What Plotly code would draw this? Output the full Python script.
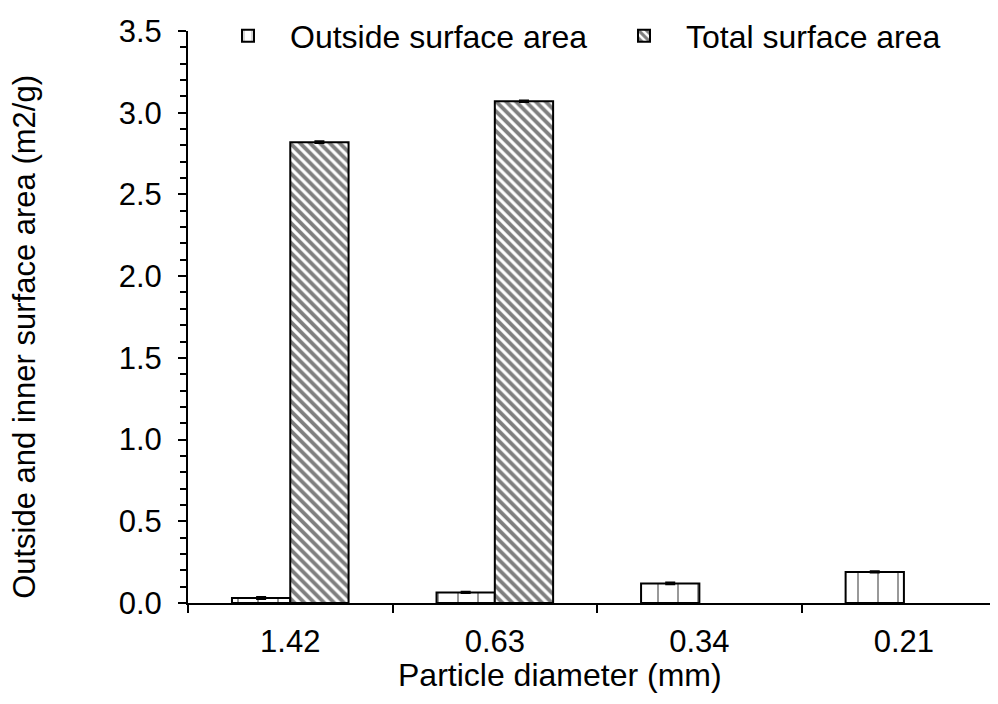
import plotly.graph_objects as go

categories = ["1.42", "0.63", "0.34", "0.21"]
outside_area = [0.03, 0.065, 0.12, 0.19]
outside_err = [0.006, 0.004, 0.006, 0.004]
total_area = [2.82, 3.07, None, None]
total_err = [0.006, 0.004, 0, 0]
y_ticks = [0.0, 0.5, 1.0, 1.5, 2.0, 2.5, 3.0, 3.5]
y_ticklabels = ["0.0", "0.5", "1.0", "1.5", "2.0", "2.5", "3.0", "3.5"]
x_title = "Particle diameter (mm)"
y_title = "Outside and inner surface area (m2/g)"

FONT = "Liberation Sans, Arial, sans-serif"
FS = 31
LFS = 32

# page body adds an 8px offset; the figure is sized and placed to compensate
OFF = 8
W, H = 998 - OFF, 704 - OFF
L, T = 188 - OFF, 27 - OFF
PW = W - L
PB = 603 - OFF
PH = PB - T


def px(x):
    return (x - OFF - L) / PW


def py(y):
    return (PB - (y - OFF)) / PH


fig = go.Figure()
fig.add_trace(go.Bar(
    x=categories, y=outside_area, name="Outside surface area", legend="legend",
    showlegend=True,
    marker=dict(color="white", line=dict(color="black", width=2),
                pattern=dict(shape="|", fgcolor="black", bgcolor="white",
                             size=20, solidity=0.08)),
    error_y=dict(type="data", array=outside_err, visible=True,
                 color="black", thickness=2, width=5),
))
fig.add_trace(go.Bar(
    x=categories, y=total_area, name="Total surface area", legend="legend2",
    showlegend=True,
    marker=dict(color="white", line=dict(color="black", width=2),
                pattern=dict(shape="\\", fgcolor="black", bgcolor="white",
                             size=7, solidity=0.55)),
    error_y=dict(type="data", array=total_err, visible=True,
                 color="black", thickness=2, width=5),
))

leg_common = dict(orientation="h", xanchor="left", yanchor="middle", y=py(32),
                  bgcolor="rgba(0,0,0,0)", font=dict(size=LFS), visible=True,
                  itemwidth=74)

fig.update_layout(
    width=W, height=H,
    margin=dict(l=L, r=0, t=T, b=H - PB),
    paper_bgcolor="white", plot_bgcolor="white",
    barmode="group", bargap=0.43, bargroupgap=0,
    showlegend=True,
    font=dict(family=FONT, size=FS, color="black"),
    legend=dict(x=px(206), **leg_common),
    legend2=dict(x=px(602), **leg_common),
    xaxis=dict(
        type="category", range=[-0.5, 3.46], automargin=False,
        showline=True, linecolor="black", linewidth=2,
        ticks="outside", ticklen=8, tickwidth=2, tickcolor="black",
        tickson="boundaries", showgrid=False, ticklabelstandoff=10,
        tickfont=dict(size=FS),
    ),
    yaxis=dict(
        range=[0, 3.5], tickvals=y_ticks, ticktext=y_ticklabels, automargin=False,
        showline=True, linecolor="black", linewidth=2,
        ticks="outside", ticklen=8, tickwidth=2, tickcolor="black",
        showgrid=False, zeroline=False, ticklabelstandoff=10,
        minor=dict(dtick=0.1, ticks="outside", ticklen=6, tickwidth=1.5, tickcolor="black"),
        tickfont=dict(size=FS),
    ),
    annotations=[
        dict(text=x_title, xref="paper", yref="paper", x=px(560), y=py(676),
             xanchor="center", yanchor="middle", showarrow=False, font=dict(size=32)),
        dict(text=y_title, xref="paper", yref="paper", x=px(25), y=py(335),
             xanchor="center", yanchor="middle", textangle=-90, showarrow=False, font=dict(size=FS)),
    ],
)

fig.write_html("out.html")
